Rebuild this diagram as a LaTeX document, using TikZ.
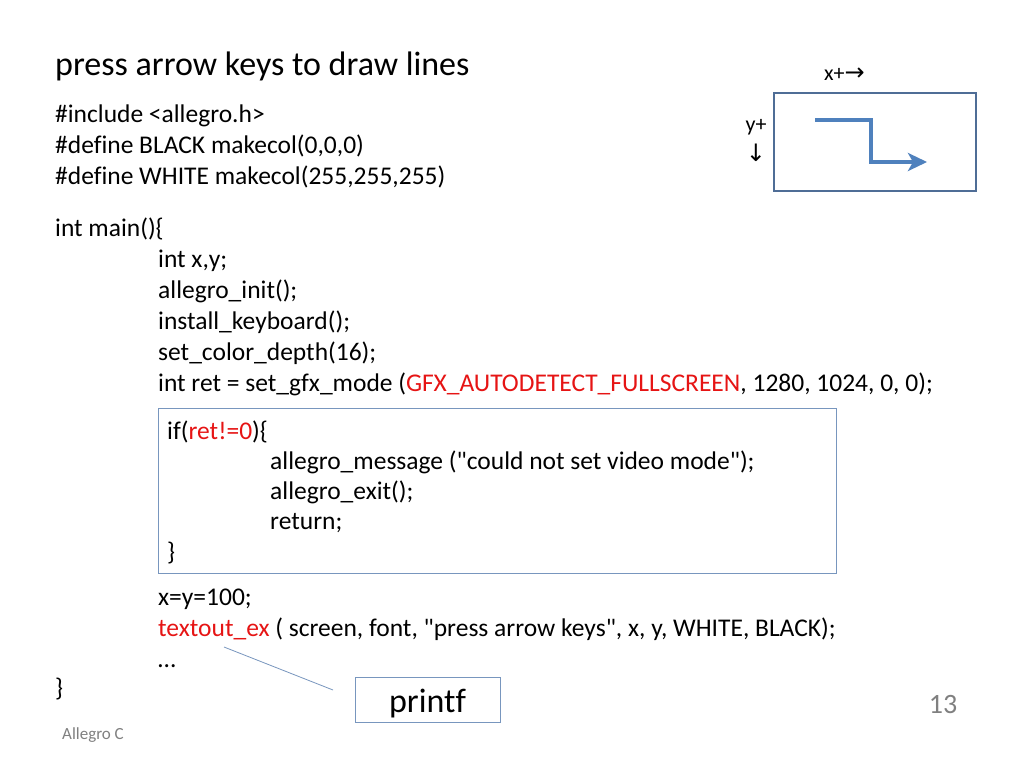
\documentclass[tikz,border=0pt]{standalone}
\usepackage{fontspec}
\setmainfont{Carlito}[Ligatures={CommonOff,TeXOff}]
\newfontfamily\symfont{DejaVu Sans}
\usetikzlibrary{arrows.meta}
\definecolor{codered}{RGB}{230,20,20}
\definecolor{boxblue}{RGB}{120,150,190}
\definecolor{frameblue}{RGB}{79,109,150}
\definecolor{arrowblue}{RGB}{79,129,189}
\definecolor{graytext}{RGB}{128,128,128}
\tikzset{
  code/.style={anchor=base west, inner sep=0pt, font=\fontsize{25.5}{30}\selectfont},
  title/.style={anchor=base west, inner sep=0pt, font=\fontsize{34}{40}\selectfont},
  callout/.style={draw=boxblue, line width=0.8pt, minimum width=145pt, text height=35pt, text depth=10pt, inner sep=0pt, font=\fontsize{34}{40}\selectfont},
  axislbl/.style={inner sep=0pt, font=\fontsize{22}{26}\selectfont},
}
\newcommand{\rd}[1]{\textcolor{codered}{#1}}
\begin{document}
\begin{tikzpicture}[x=1pt,y=-1pt]
\useasboundingbox[fill=white] (0,0) rectangle (1024,768);
\node[title] (t) at (55,75) {press arrow keys to draw lines};
\node[code] (l1) at (55,122) {\#include <allegro.h>};
\node[code] (l2) at (55,153) {\#define BLACK makecol(0,0,0)};
\node[code] (l3) at (55,184) {\#define WHITE makecol(255,255,255)};
\node[code] (m1) at (55,236) {int main()\{};
\node[code] (m2) at (158,267) {int x,y;};
\node[code] (m3) at (158,298) {allegro\_init();};
\node[code] (m4) at (158,329) {install\_keyboard();};
\node[code] (m5) at (158,360) {set\_color\_depth(16);};
\node[code] (m6) at (158,391) {int ret = set\_gfx\_mode (\rd{GFX\_AUTODETECT\_FULLSCREEN}, 1280, 1024, 0, 0);};
\node[draw=boxblue, line width=0.8pt, minimum width=678pt, minimum height=165pt, inner sep=0pt, anchor=north west] (ifbox) at (158,408) {};
\node[code] (b1) at (167,439) {if(\rd{ret!=0})\{};
\node[code] (b2) at (270,469) {allegro\_message ("could not set video mode");};
\node[code] (b3) at (270,499) {allegro\_exit();};
\node[code] (b4) at (270,529) {return;};
\node[code] (b5) at (167,560) {\}};
\node[code] (n1) at (158,605) {x=y=100;};
\node[code] (n2) at (158,636) {\rd{textout\_ex} ( screen, font, "press arrow keys", x, y, WHITE, BLACK);};
\node[code] (n3) at (158,667) {\ldots};
\node[code] (n4) at (55,696) {\}};
\node[callout] (pf) at (427.5,699.5) {printf};
\coordinate (tx) at (224,647);
\draw[boxblue, line width=0.8pt] (tx) -- (333,690);
\node[anchor=center, text=graytext, font=\fontsize{28}{32}\selectfont] (pg) at (943,704) {13};
\node[anchor=base west, inner sep=0pt, text=graytext, font=\fontsize{17}{20}\selectfont] (foot) at (62,739) {Allegro C};
% screen frame
\node[draw=frameblue, line width=2.2pt, minimum width=202pt, minimum height=98pt, inner sep=0pt, anchor=north west] (scr) at (773,92) {};
\draw[arrowblue, line width=4pt, -{Stealth[length=19pt,width=18pt,inset=5pt]}] (815,120) -- (871,120) -- (871,162) -- (927,162);
\node[axislbl, anchor=base west] (xp) at (824,81) {x+{\symfont\fontsize{24}{26}\selectfont →}};
\node[axislbl, anchor=base] (yp) at (756,131) {y+};
\node[axislbl, anchor=base] (ya) at (756,161) {{\symfont\fontsize{24}{26}\selectfont ↓}};
\end{tikzpicture}
\end{document}
